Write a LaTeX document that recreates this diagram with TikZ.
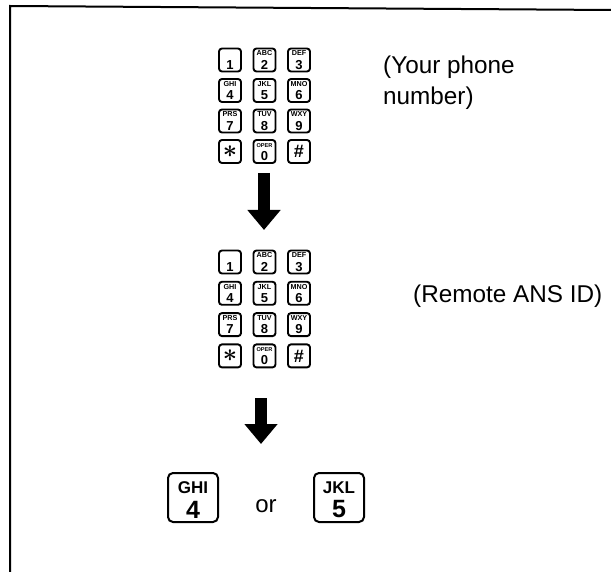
\documentclass[tikz,border=0pt]{standalone}
\usepackage{fontspec}
\setmainfont{Liberation Sans}
\usetikzlibrary{arrows.meta, positioning}

% small key: letters over digit
\newcommand\padlab[2]{\vbox{\hbox to 20pt{\hss\vrule height 5pt width 0pt\fontsize{7.2}{7.2}\selectfont\bfseries #1\hss}\kern1.2pt\hbox to 20pt{\hss\fontsize{13}{13}\selectfont\bfseries #2\hss}}}
% small key: one symbol
\newcommand\padsym[2]{{\fontsize{#1}{#1}\selectfont\bfseries\boldmath #2}}
% large key
\newcommand\biglab[2]{\vbox{\kern5pt\hbox to 44pt{\hss\fontsize{17}{17}\selectfont\bfseries #1\hss}\kern6pt\hbox to 44pt{\hss\fontsize{25}{25}\selectfont\bfseries #2\hss}}}

\begin{document}
\begin{tikzpicture}[
  x=1pt, y=-1pt,
  every node/.style={inner sep=0pt},
  padkey/.style={draw, rounded corners=3pt, line width=1.9pt, minimum width=22pt, minimum height=23pt},
  bigkey/.style={draw, rounded corners=5pt, line width=2pt, minimum width=50pt, minimum height=49pt},
  note/.style={font=\fontsize{24.3}{31}\selectfont, align=left},
  blockarrow/.style={line width=12pt, -{Triangle[width=32pt, length=20pt]}}
]
\useasboundingbox (0,0) rectangle (611,572);

% frame
\draw[line width=2pt] (10,572) -- (10,6) -- (611,10);

% keypads
\foreach \pad/\py/\dy in {a/60/30.5, b/262/31.3} {
  \foreach \lab [count=\i from 0] in {{\padlab{}{1}}, {\padlab{ABC}{2}}, {\padlab{DEF}{3}},
      {\padlab{GHI}{4}}, {\padlab{JKL}{5}}, {\padlab{MNO}{6}},
      {\padlab{PRS}{7}}, {\padlab{TUV}{8}}, {\padlab{WXY}{9}},
      {\padsym{26}{$\ast$}}, {\padlab{\fontsize{5.6}{5.6}\selectfont OPER}{0}}, {\padsym{18}{\#}}} {
    \pgfmathtruncatemacro\col{mod(\i,3)}
    \pgfmathtruncatemacro\row{div(\i,3)}
    \node[padkey] (\pad\i) at (230+34.5*\col, \py+\dy*\row) {\lab};
  }
}

\node[note, anchor=base west] (yournum) at (383,105) {(Your phone\\number)};
\node[note, anchor=base west] (ansid) at (413,303) {(Remote ANS ID)};

% arrows
\coordinate (arr1s) at (264,173);
\coordinate (arr1e) at (264,230);
\coordinate (arr2s) at (261,398);
\coordinate (arr2e) at (261,444);
\draw[blockarrow] (arr1s) -- (arr1e);
\draw[blockarrow] (arr2s) -- (arr2e);

% last step
\node[bigkey] (ghi) at (193,497.5) {\biglab{GHI}{4}};
\node[font=\fontsize{24}{24}\selectfont, anchor=base] (orword) at (266,512) {or};
\node[bigkey] (jkl) at (339,497.5) {\biglab{JKL}{5}};

\end{tikzpicture}
\end{document}
